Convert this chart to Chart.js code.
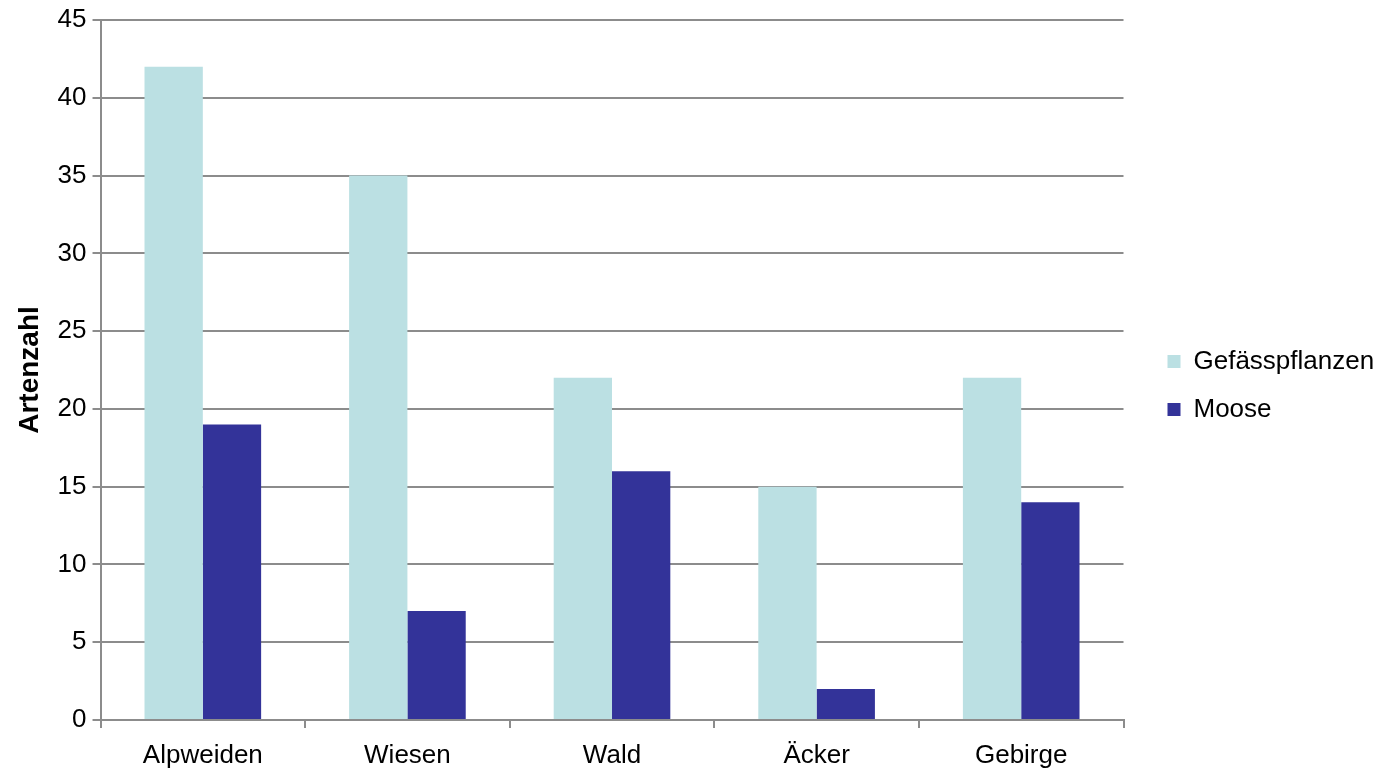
<!DOCTYPE html>
<html>
<head>
<meta charset="utf-8">
<script src="https://cdn.jsdelivr.net/npm/chart.js@4/dist/chart.umd.min.js"></script>
<style>
  html, body { margin:0; padding:0; background:#fff; }
  #wrap { width:1383px; height:771px; }
</style>
</head>
<body>
<div id="wrap"><canvas id="c" width="1383" height="771"></canvas></div>
<script>
const categories = ['Alpweiden', 'Wiesen', 'Wald', 'Äcker', 'Gebirge'];
const gefaesspflanzen = [42, 35, 22, 15, 22];
const moose = [19, 7, 16, 2, 14];

const gridGray = '#8c8c8c';
const font = { family: 'Liberation Sans, Arial, sans-serif', size: 26 };

new Chart(document.getElementById('c'), {
  type: 'bar',
  data: {
    labels: categories,
    datasets: [
      { label: 'Gefässpflanzen', data: gefaesspflanzen, backgroundColor: '#bbe0e3' },
      { label: 'Moose', data: moose, backgroundColor: '#333399' }
    ]
  },
  options: {
    responsive: false,
    animation: false,
    devicePixelRatio: 1,
    categoryPercentage: 0.57,
    barPercentage: 1,
    layout: { padding: { top: 0, left: 3, right: 9, bottom: 0 } },
    plugins: {
      tooltip: { enabled: false },
      legend: {
        position: 'right',
        labels: {
          font: font, color: '#000',
          boxWidth: 13, boxHeight: 13, padding: 22,
          useBorderRadius: false
        }
      }
    },
    scales: {
      x: {
        grid: { offset: true, drawOnChartArea: false, color: gridGray, lineWidth: 2, tickLength: 8 },
        border: { color: gridGray, width: 2 },
        ticks: { font: { ...font, lineHeight: 0.97 }, color: '#000', padding: 15 },
        afterFit: (s) => { s.height = 51; }
      },
      y: {
        min: 0, max: 45,
        ticks: { stepSize: 5, font: { ...font, lineHeight: 1.08 }, color: '#000', padding: 6 },
        grid: { color: gridGray, lineWidth: 2, tickLength: 8 },
        border: { color: gridGray, width: 2 },
        title: { display: true, text: 'Artenzahl', color: '#000',
                 font: { family: font.family, size: 28, weight: 'bold' }, padding: { top: 10, bottom: 5 } }
      },
      // empty spacer between plot and legend
      gap: {
        type: 'linear', position: 'right', display: true,
        ticks: { display: false }, grid: { display: false }, border: { display: false },
        afterFit: (s) => { s.width = 22; }
      }
    }
  }
});
</script>
</body>
</html>
